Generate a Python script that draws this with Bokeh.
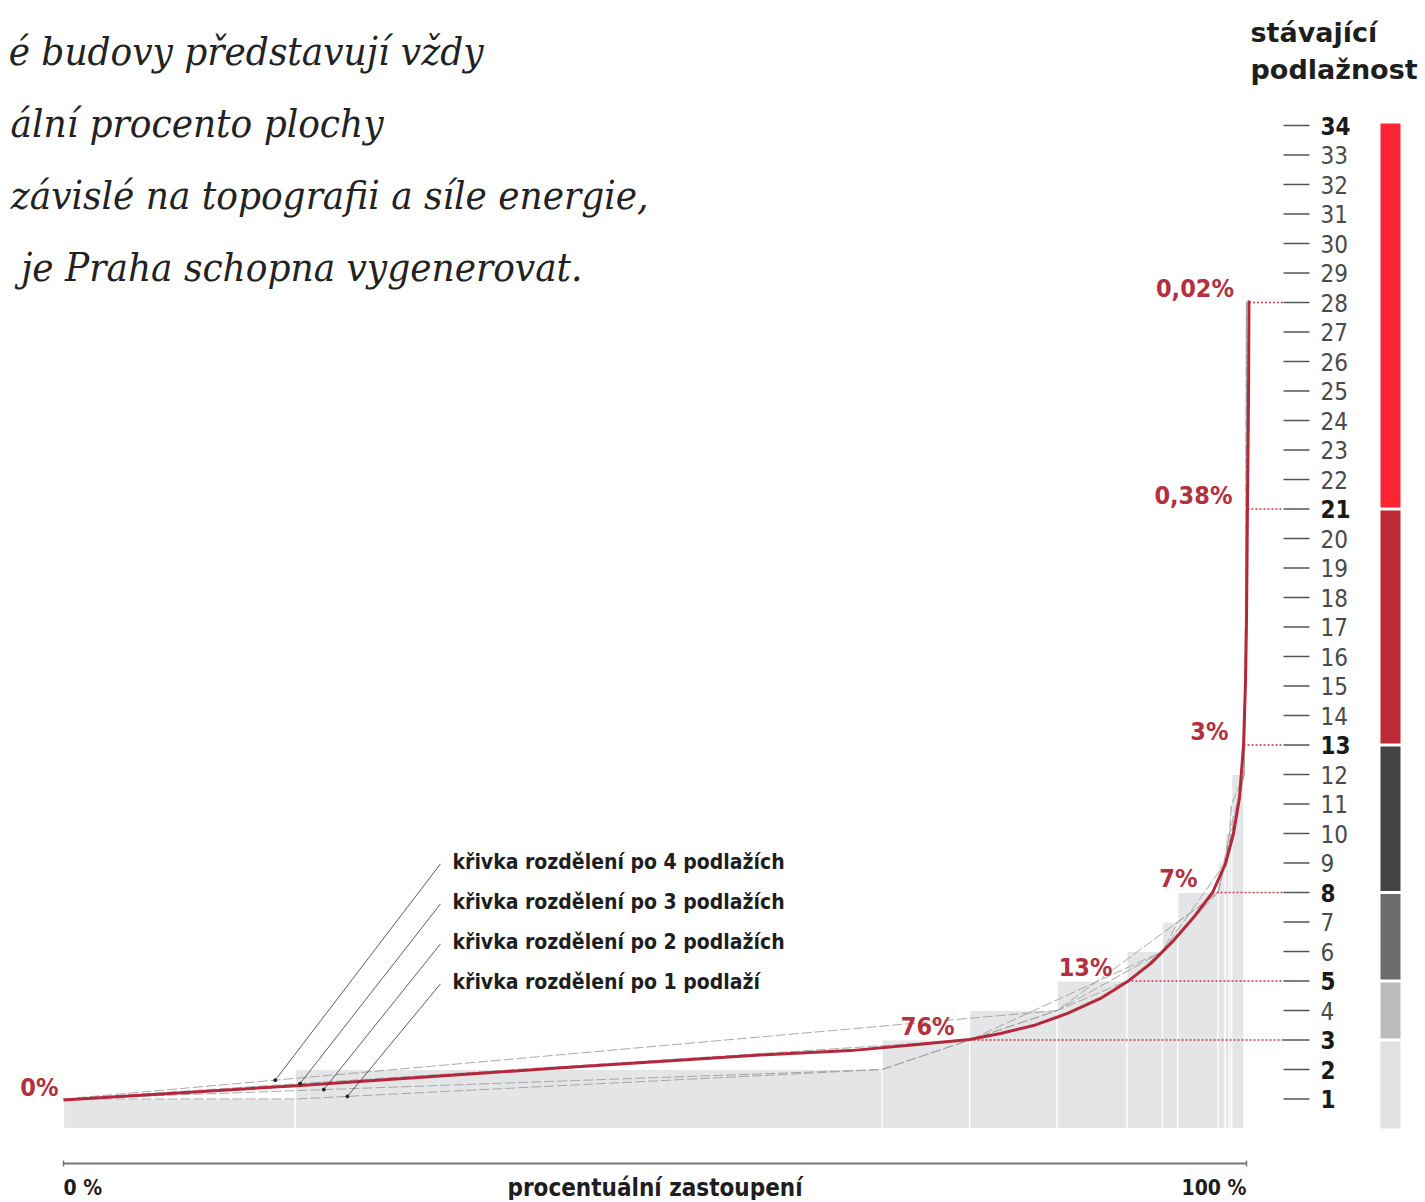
import numpy as np
from bokeh.plotting import figure
from bokeh.models import Range1d, ColumnDataSource
from bokeh.core.properties import value
from bokeh.embed import file_html
from bokeh.resources import INLINE

# ---------------- data ----------------
floors = list(range(1, 29))
# share of built area (percent) by number of floors
floor_share_pct = [19.6, 49.6, 7.4, 7.4, 5.9, 3.0, 1.3, 3.4, 0.6, 0.35, 0.2, 1.05, 0.05,
                   0.015, 0.015, 0.015, 0.015, 0.015, 0.015, 0.015, 0.015,
                   0.004, 0.004, 0.004, 0.004, 0.004, 0.004, 0.004]

# smooth red distribution curve (cumulative percent, floors)
curve_pct = [0.0, 20.03, 41.17, 59.76, 66.53, 72.19, 76.59, 79.21, 82.0, 84.87, 87.66,
             89.94, 91.89, 93.83, 95.52, 97.13, 98.23, 98.9, 99.41, 99.75, 99.92,
             100.0, 100.08, 100.17, 100.21]
curve_floor = [0.97, 1.46, 2.03, 2.51, 2.64, 2.85, 3.02, 3.22, 3.49, 3.90, 4.41,
               4.98, 5.59, 6.37, 7.15, 8.0, 8.98, 10.0, 11.22, 13.0, 15.19,
               17.22, 21.0, 24.7, 28.07]

# group boundaries (Fibonacci) with group shares
group_floor_top = [3, 5, 8, 13, 21, 28]
group_curve_pct = [76.59, 89.94, 97.13, 99.75, 100.08, 100.21]
group_labels = ["76%", "13%", "7%", "3%", "0,38%", "0,02%"]
start_label = "0%"

band_lo = [0, 3, 5, 8, 13, 21]
band_hi = [3, 5, 8, 13, 21, 34]
band_colors = ["#e1e1e1", "#bcbcbc", "#6d6d6d", "#444444", "#be2a33", "#fa2433"]

tick_floors = list(range(1, 35))
bold_floors = [1, 2, 3, 5, 8, 13, 21, 34]

curve_steps = [4, 3, 2, 1]
curve_names = ["křivka rozdělení po 4 podlažích",
               "křivka rozdělení po 3 podlažích",
               "křivka rozdělení po 2 podlažích",
               "křivka rozdělení po 1 podlaží"]
leader_anchor_pct = [17.9, 20.0, 22.0, 24.0]

title_lines = ["stávající", "podlažnost"]
intro_lines = ["é budovy představují vždy",
               "ální procento plochy",
               "závislé na topografii a síle energie,",
               "je Praha schopna vygenerovat."]
axis_labels = ["0 %", "procentuální zastoupení", "100 %"]

# ---------------- layout ----------------
W, H = 1420, 1200
PX_PCT = 11.83      # pixels per percent
PX_FLOOR = 29.5     # pixels per floor
X0 = 63             # canvas px of 0 %
Y0 = 1128           # canvas px of floor 0

def px_to_pct(x):
    return (x - X0) / PX_PCT

def py_to_floor(y):
    return (Y0 - y) / PX_FLOOR

p = figure(width=W, height=H,
           x_range=Range1d(-X0 / PX_PCT, (W - X0) / PX_PCT),
           y_range=Range1d(-(H - Y0) / PX_FLOOR, Y0 / PX_FLOOR),
           output_backend="svg", toolbar_location=None,
           x_axis_type=None, y_axis_type=None, min_border=0)
p.grid.visible = False
p.outline_line_color = None
p.background_fill_color = "white"
p.border_fill_color = "white"

SANS = value("DejaVu Sans Condensed")
SANS_W = value("DejaVu Sans")
SERIF = value("DejaVu Serif Condensed")
RED_TXT = "#b2303f"

# ---------------- bars ----------------
share = np.array(floor_share_pct)
cum = np.cumsum(share)
left = np.concatenate([[0.0], cum[:-1]])
p.quad(left=left, right=cum, bottom=0, top=floors,
       fill_color="#e4e5e6", line_color="white", line_width=1.2)

# ---------------- grey step curves ----------------
def step_curve(s):
    ks = list(range(s, floors[-1] + 1, s))
    if ks[-1] != floors[-1]:
        ks.append(floors[-1])
    xs = [0.0] + [float(cum[k - 1]) for k in ks]
    ys = [1] + ks
    return xs, ys

for s in curve_steps:
    xs, ys = step_curve(s)
    p.line(xs, ys, line_color="#a0a0a0", line_width=1, line_dash="10 3", line_alpha=0.9)

# ---------------- dotted guides ----------------
tick_x0, tick_x1 = px_to_pct(1283), px_to_pct(1309)
p.segment(x0=group_curve_pct, y0=group_floor_top,
          x1=[tick_x0] * len(group_floor_top), y1=group_floor_top,
          line_color="#c23a45", line_width=1.5, line_dash="2 2")

# ---------------- red curve ----------------
p.line(curve_pct, curve_floor, line_color="#b5283b", line_width=3, line_join="round")

# group labels
p.text(x=group_curve_pct, y=group_floor_top, text=group_labels,
       x_offset=-15, y_offset=-14, text_align="right", text_baseline="middle",
       text_color=RED_TXT, text_font=SANS, text_font_size="25px", text_font_style="bold")
p.text(x=[0], y=[1], text=[start_label], x_offset=-5, y_offset=-12,
       text_align="right", text_baseline="middle",
       text_color=RED_TXT, text_font=SANS, text_font_size="25px", text_font_style="bold")

# ---------------- curve legend with leaders ----------------
name_y = [py_to_floor(v) for v in (861, 901, 941, 981)]
anchor_y = []
for s, a in zip(curve_steps, leader_anchor_pct):
    xs, ys = step_curve(s)
    anchor_y.append(float(np.interp(a, xs, ys)))
lead_x = px_to_pct(440)
p.segment(x0=[lead_x] * 4, y0=[y - 0.08 for y in name_y], x1=leader_anchor_pct, y1=anchor_y,
          line_color="#333333", line_width=0.8)
p.scatter(leader_anchor_pct, anchor_y, size=3, color="#222222")
p.text(x=[px_to_pct(452)] * 4, y=name_y, text=curve_names, text_align="left",
       text_baseline="middle", text_color="#1e1e1e", text_font=SANS,
       text_font_size="21px", text_font_style="bold")

# ---------------- right scale ----------------
p.segment(x0=[tick_x0] * len(tick_floors), x1=[tick_x1] * len(tick_floors),
          y0=tick_floors, y1=tick_floors, line_color="#555555", line_width=1.5)
tick_src = ColumnDataSource(dict(
    x=[px_to_pct(1320)] * len(tick_floors), y=tick_floors,
    t=[str(f) for f in tick_floors],
    fs=["bold" if f in bold_floors else "normal" for f in tick_floors],
    tc=["#1a1a1a" if f in bold_floors else "#4a4a4a" for f in tick_floors]))
p.text(x="x", y="y", text="t", source=tick_src, text_font_style="fs", text_color="tc",
       text_align="left", text_baseline="middle", text_font=SANS, text_font_size="24px")

gap = 1.5 / PX_FLOOR
p.quad(left=px_to_pct(1380), right=px_to_pct(1400),
       bottom=[lo + (gap if lo > 0 else 0) for lo in band_lo],
       top=[hi - gap if hi < band_hi[-1] else hi + 0.07 for hi in band_hi],
       fill_color=band_colors, line_color=None)

p.text(x=[px_to_pct(1250)] * 2, y=[py_to_floor(32), py_to_floor(69)], text=title_lines,
       text_align="left", text_baseline="middle", text_color="#1e1e1e",
       text_font=SANS_W, text_font_size="27px", text_font_style="bold")

# ---------------- intro text (cropped on the left) ----------------
p.text(x=[px_to_pct(v) for v in (483, 383, 648, 582)],
       y=[py_to_floor(v) for v in (50, 122, 194, 266)],
       text=intro_lines, text_align="right", text_baseline="middle",
       text_color="#222222", text_font=SERIF, text_font_size="40px",
       text_font_style="italic")

# ---------------- x axis ----------------
ay = py_to_floor(1163)
p.segment(x0=[0], y0=[ay], x1=[100], y1=[ay], line_color="#777777", line_width=2)
p.segment(x0=[0, 100], y0=[ay - 0.1] * 2, x1=[0, 100], y1=[ay + 0.1] * 2,
          line_color="#777777", line_width=1.5)
ly = py_to_floor(1187)
p.text(x=[0], y=[ly], text=[axis_labels[0]], text_align="left", text_baseline="middle",
       text_color="#1e1e1e", text_font=SANS, text_font_size="21px", text_font_style="bold")
p.text(x=[50], y=[ly], text=[axis_labels[1]], text_align="center", text_baseline="middle",
       text_color="#1e1e1e", text_font=SANS, text_font_size="24px", text_font_style="bold")
p.text(x=[100], y=[ly], text=[axis_labels[2]], text_align="right", text_baseline="middle",
       text_color="#1e1e1e", text_font=SANS, text_font_size="21px", text_font_style="bold")

open("out.html", "w").write(file_html(p, INLINE))
